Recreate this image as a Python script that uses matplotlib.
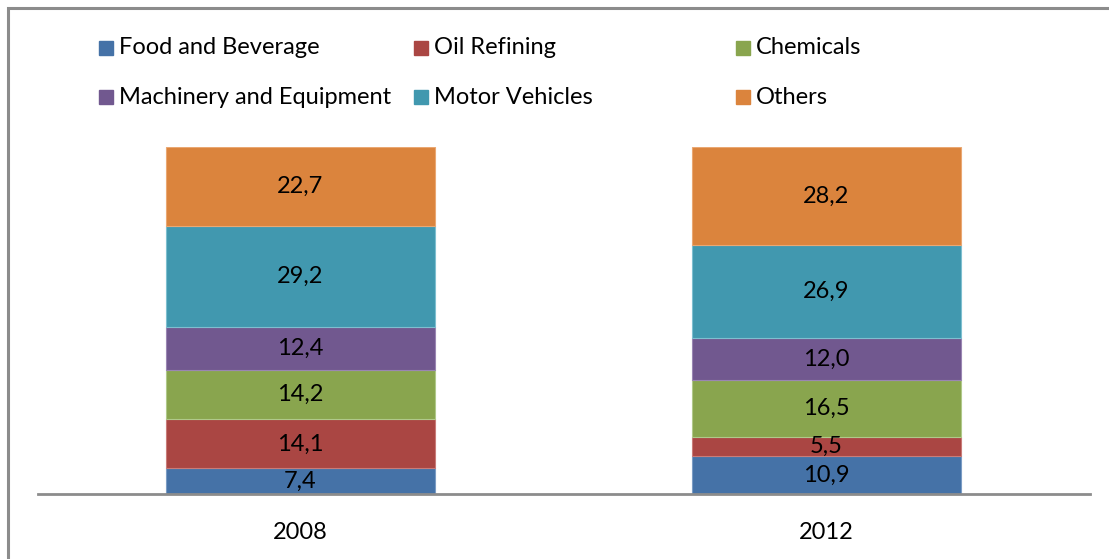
import numpy as np
import matplotlib.pyplot as plt
import matplotlib.patches as mpatches

plt.rcParams['font.family'] = ['Lato', 'DejaVu Sans']

years = ['2008', '2012']
sectors = ['Food and Beverage', 'Oil Refining', 'Chemicals',
           'Machinery and Equipment', 'Motor Vehicles', 'Others']
food = [7.4, 10.9]
oil = [14.1, 5.5]
chemicals = [14.2, 16.5]
machinery = [12.4, 12.0]
motor = [29.2, 26.9]
others = [22.7, 28.2]
series = [food, oil, chemicals, machinery, motor, others]

colors = ['#4572A7', '#AA4643', '#89A54E', '#71588F', '#4198AF', '#DB843D']
edges = ['#7b9cc4', '#c97c79', '#b0c98a', '#9a86b3', '#7ebfd0', '#eaa873']

W, H = 1109, 559
fig = plt.figure(figsize=(W / 100, H / 100), dpi=100)

# frame around the chart (cut off on the right and bottom)
fig.patches.append(mpatches.Rectangle((8 / W, -0.1), 1.2, 1 - 8 / H + 0.1,
                                      transform=fig.transFigure, fill=False,
                                      edgecolor='#8c8c8c', linewidth=2.2))

ax = fig.add_axes([37.5 / W, 1 - 494 / H, 1052 / W, 347 / H])
x = np.arange(len(years))
bottom = np.zeros(len(years))
for vals, c, ec in zip(series, colors, edges):
    vals = np.array(vals)
    ax.bar(x, vals, width=0.511, bottom=bottom, color=c, edgecolor=ec, linewidth=0.8)
    for xi, b, v in zip(x, bottom, vals):
        ax.text(xi, b + v / 2, f'{v:.1f}'.replace('.', ','), ha='center', va='center',
                fontsize=17, color='black')
    bottom += vals

ax.set_xlim(-0.5, 1.5)
ax.set_ylim(0, 100)
ax.set_xticks(x)
ax.set_xticklabels(years, fontsize=17)
ax.tick_params(axis='x', length=0, pad=20)
ax.set_yticks([])
for s in ['top', 'right', 'left']:
    ax.spines[s].set_visible(False)
ax.spines['bottom'].set_color('#8c8c8c')
ax.spines['bottom'].set_linewidth(2)

# legend, three columns by two rows
col_x = [99, 414, 736]
row_y = [48, 97]
for i, (name, c) in enumerate(zip(sectors, colors)):
    cx = col_x[i % 3]
    cy = row_y[i // 3]
    fig.patches.append(mpatches.Rectangle((cx / W, 1 - (cy + 7) / H), 14 / W, 14 / H,
                                          transform=fig.transFigure, color=c))
    fig.text((cx + 20) / W, 1 - cy / H, name, fontsize=17, va='center', ha='left')

fig.savefig('out.png', dpi=100)
